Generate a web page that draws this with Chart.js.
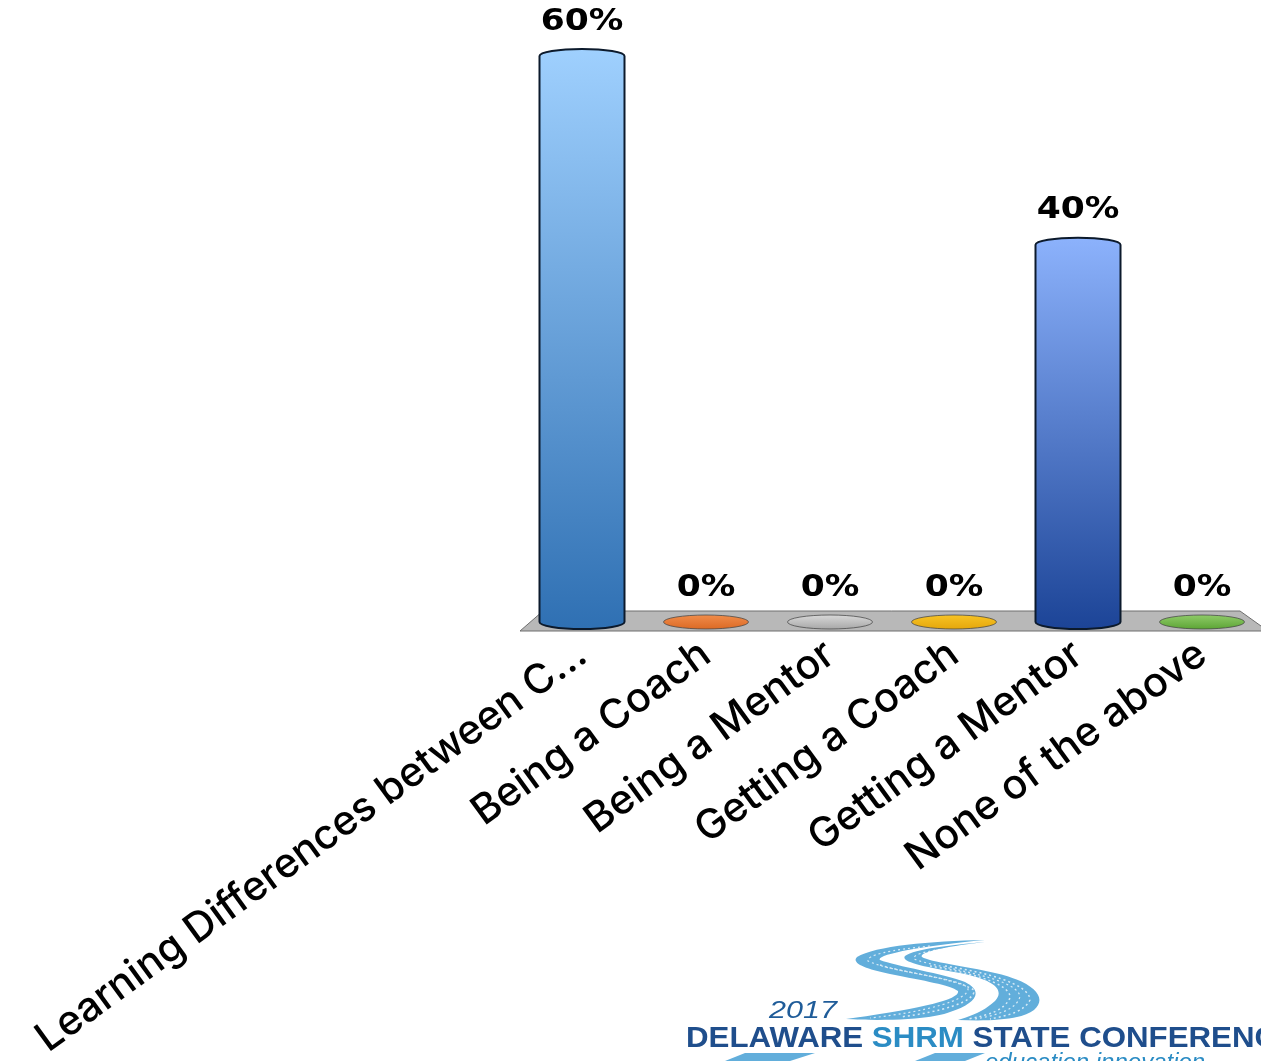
<!DOCTYPE html>
<html>
<head>
<meta charset="utf-8">
<style>
html,body{margin:0;padding:0;background:#fff;overflow:hidden;width:1261px;height:1061px;}
#wrap{position:relative;width:1261px;height:1061px;overflow:hidden;}
canvas{position:absolute;left:0;top:0;}
#logo{position:absolute;left:0;top:0;}
</style>
</head>
<body>
<div id="wrap">
<canvas id="chart" width="1300" height="1061" style="width:1300px;height:1061px"></canvas>
<svg id="logo" width="1261" height="1061" viewBox="0 0 1261 1061">
<g fill="#62aedb">
<path d="M985 940C930 941 875 946 857 957C850 964 870 970 890 974C925 981 950 985 958 991C960 999 925 1008 846 1019C880 1021 930 1020 950 1012C975 1004 985 992 965 982C945 974 895 966 880 960C875 955 920 946 985 940Z"/>
<path d="M985 942C950 945 915 949 905 956C900 962 925 967 960 973C995 980 1005 990 995 1001C985 1010 975 1015 958 1020C985 1021 1020 1021 1034 1010C1048 998 1035 982 995 973C965 966 930 962 922 957C918 952 950 946 985 942Z"/>
</g>
<g fill="none" stroke="#fff" stroke-dasharray="2 3" opacity=".75">
<path stroke-width="1.2" d="M930 946C890 950 866 955 868 961C890 972 960 978 968 988C970 1000 925 1012 870 1018"/>
<path stroke-width="1.2" d="M960 947C930 950 912 954 914 959C935 968 1015 976 1020 996C1018 1008 1000 1015 975 1019"/>
<path stroke-width="1.5" d="M880 965C900 972 955 978 974 990C976 1002 940 1012 900 1017"/>
<path stroke-width="1.5" d="M930 966C960 971 1012 982 1010 998C1004 1010 990 1015 968 1019"/>
<path stroke-width="1.5" d="M945 966C985 972 1030 984 1030 1000C1024 1012 1006 1016 990 1019"/>
</g>
<text x="769" y="1018" font-family="Liberation Sans" font-style="italic" font-size="23" fill="#1f5c99" textLength="68" lengthAdjust="spacingAndGlyphs">2017</text>
<text x="686" y="1047" font-family="Liberation Sans" font-weight="bold" font-size="30" fill="#1f4e8c" textLength="612" lengthAdjust="spacingAndGlyphs">DELAWARE <tspan fill="#2b8cc4">SHRM</tspan> STATE CONFERENCE</text>
<path d="M725 1061L745 1053H815L790 1061Z M915 1061L935 1053H985L965 1061Z" fill="#62aedb"/>
<text x="985" y="1070" font-family="Liberation Sans" font-style="italic" font-size="24" fill="#2b8cc4">education innovation</text>
</svg>
</div>
<script src="https://cdn.jsdelivr.net/npm/chart.js@4"></script>
<script>
const categories = ["Learning Differences between C...", "Being a Coach", "Being a Mentor", "Getting a Coach", "Getting a Mentor", "None of the above"];
const values = [60, 0, 0, 0, 40, 0];
const topColors = ["#9fd0fe", "#f08c4a", "#d8d8d8", "#f7c325", "#8cb2fc", "#8fcb68"];
const bottomColors = ["#2f70b3", "#dc6a25", "#a8a8a8", "#e5a70c", "#1c4497", "#5da536"];

const ry = 7;

function drawLabel(ctx, text, x, y){
  ctx.save();
  ctx.translate(x, y);
  ctx.scale(1.15, 1);
  ctx.font = "bold 30px 'DejaVu Sans'";
  ctx.textAlign = "center";
  ctx.textBaseline = "middle";
  ctx.fillStyle = "#000";
  ctx.fillText(text, 0, 0);
  ctx.restore();
}

// floor plate and the cylinders, positions come from the bar elements
const cylinders = {
  id: "cylinders",
  beforeDatasetsDraw(chart){
    const ctx = chart.ctx, area = chart.chartArea;
    const base = chart.scales.y.getPixelForValue(0);
    ctx.save();
    ctx.beginPath();
    ctx.moveTo(area.left, base + 9);
    ctx.lineTo(area.right + 4, base + 9);
    ctx.lineTo(area.right - 24, base - 11);
    ctx.lineTo(area.left + 23, base - 11);
    ctx.closePath();
    ctx.fillStyle = "#b8b8b8";
    ctx.fill();
    ctx.strokeStyle = "#6e6e6e";
    ctx.lineWidth = 1;
    ctx.stroke();
    ctx.restore();
  },
  afterDatasetsDraw(chart){
    const ctx = chart.ctx;
    chart.getDatasetMeta(0).data.forEach((bar, i)=>{
      const rx = bar.width / 2;
      const grad = ctx.createLinearGradient(0, bar.y - ry, 0, bar.base + ry);
      grad.addColorStop(0, topColors[i]);
      grad.addColorStop(1, bottomColors[i]);
      ctx.save();
      if(values[i] === 0){
        ctx.beginPath();
        ctx.ellipse(bar.x, bar.base, rx, ry, 0, 0, Math.PI * 2);
        ctx.fillStyle = grad;
        ctx.fill();
        ctx.strokeStyle = "rgba(70,70,70,.75)";
        ctx.lineWidth = 1;
        ctx.stroke();
      } else {
        ctx.beginPath();
        ctx.moveTo(bar.x - rx, bar.y);
        ctx.ellipse(bar.x, bar.y, rx, ry, 0, Math.PI, 0);
        ctx.lineTo(bar.x + rx, bar.base);
        ctx.ellipse(bar.x, bar.base, rx, ry, 0, 0, Math.PI);
        ctx.closePath();
        ctx.fillStyle = grad;
        ctx.fill();
        ctx.strokeStyle = "#0c1a2c";
        ctx.lineWidth = 2;
        ctx.stroke();
      }
      ctx.restore();
      drawLabel(ctx, values[i] + "%", bar.x, bar.y - ry - 27);
    });
  }
};

new Chart(document.getElementById("chart"), {
  type: "bar",
  plugins: [cylinders],
  data: {
    labels: categories,
    datasets: [{data: values, backgroundColor: "rgba(0,0,0,0)", barThickness: 85}]
  },
  options: {
    responsive: false,
    animation: false,
    layout: {padding: {left: 520, right: 36, top: 56, bottom: 0}},
    plugins: {legend: {display: false}, tooltip: {enabled: false}},
    scales: {
      x: {
        afterFit(scale){
          scale.height = 439;
          scale.paddingLeft = 0;
          scale.paddingRight = 0;
        },
        grid: {display: false},
        border: {display: false},
        ticks: {
          autoSkip: false,
          minRotation: 36,
          maxRotation: 36,
          padding: 0,
          color: "#000",
          font: {family: "Inter", size: 41, weight: "500"}
        }
      },
      y: {
        display: false,
        min: 0,
        max: 60
      }
    }
  }
});
</script>
</body>
</html>
